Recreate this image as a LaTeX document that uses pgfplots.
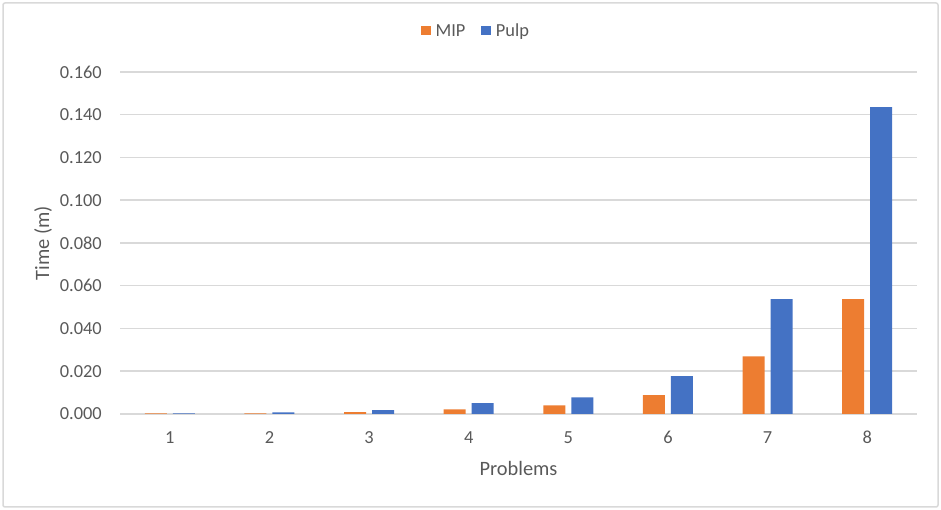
\documentclass[border=0pt]{standalone}
\usepackage{pgfplots}
\pgfplotsset{compat=1.18}
\usepackage{fontspec}
\setmainfont{Carlito}
\definecolor{mipc}{HTML}{ED7D31}
\definecolor{pulpc}{HTML}{4472C4}
\definecolor{gridc}{HTML}{D9D9D9}
\definecolor{txtc}{HTML}{595959}
\begin{document}
\begin{tikzpicture}[x=1pt,y=1pt]
\useasboundingbox (0,0) rectangle (941,510);
\draw[gridc, line width=1.5pt, rounded corners=2pt] (3,3) rectangle (938,507);
\begin{axis}[
  at={(120pt,96pt)}, anchor=south west,
  scale only axis, width=797pt, height=342pt,
  ybar=6pt, bar width=22pt,
  xmin=0.5, xmax=8.5, ymin=0, ymax=0.16,
  xtick=data, ytick={0,0.02,...,0.161},
  axis line style={draw=none},
  major tick length=0pt,
  ymajorgrids, grid style={gridc, line width=1.5pt},
  font=\fontsize{18.4}{22}\selectfont\color{txtc},
  /pgf/number format/assume math mode=true,
  yticklabel style={/pgf/number format/fixed, /pgf/number format/fixed zerofill, /pgf/number format/precision=3, inner sep=0pt, anchor=east, xshift=-18pt},
  scaled y ticks=false,
  xticklabel style={inner sep=0pt, anchor=north, yshift=-17pt},
  xlabel={Problems}, ylabel={Time (m)},
  xlabel style={at={(axis description cs:0.5,-0.158)}, anchor=center, font=\fontsize{20.4}{24}\selectfont\color{txtc}},
  ylabel style={at={(axis description cs:-0.0966,0.5)}, anchor=center, font=\fontsize{20.4}{24}\selectfont\color{txtc}},
  legend style={at={(axis description cs:0.4467,1.12)}, anchor=center, draw=none, fill=none, legend columns=2, font=\fontsize{18.4}{22}\selectfont\color{txtc}, /tikz/every even column/.append style={column sep=14pt}, /tikz/every odd column/.append style={column sep=3pt}},
  legend image code/.code={\fill (0pt,-4.5pt) rectangle (9.5pt,5pt);},
]
\addplot[fill=mipc, draw=none] coordinates {(1,0.0003) (2,0.0003) (3,0.0009) (4,0.0022) (5,0.0040) (6,0.0088) (7,0.0270) (8,0.0537)};
\addplot[fill=pulpc, draw=none] coordinates {(1,0.0003) (2,0.0008) (3,0.0018) (4,0.0051) (5,0.0078) (6,0.0177) (7,0.0537) (8,0.1436)};
\legend{MIP, Pulp}
\end{axis}
\end{tikzpicture}
\end{document}
